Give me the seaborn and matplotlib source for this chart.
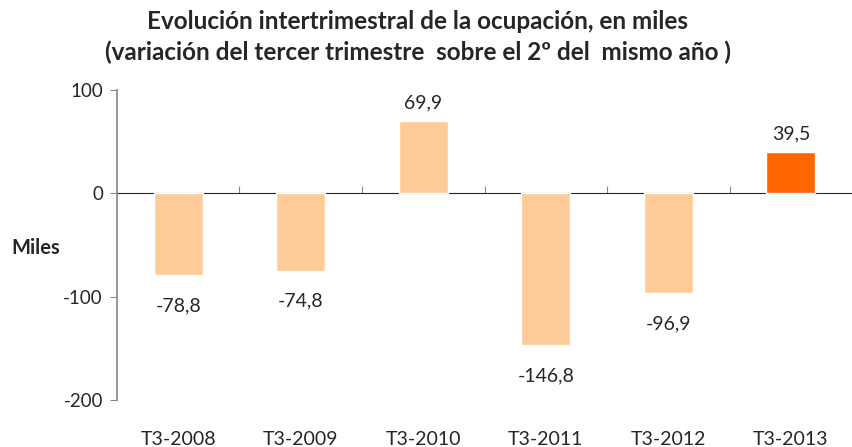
import matplotlib
matplotlib.use("Agg")
import matplotlib.pyplot as plt
import seaborn as sns
import pandas as pd

categories = ["T3-2008", "T3-2009", "T3-2010", "T3-2011", "T3-2012", "T3-2013"]
values = [-78.8, -74.8, 69.9, -146.8, -96.9, 39.5]
bar_colors = ["#FFCC99", "#FFCC99", "#FFCC99", "#FFCC99", "#FFCC99", "#FF6600"]
yticks = [100, 0, -100, -200]

sns.set_style("white")
plt.rcParams["font.family"] = ["Lato", "DejaVu Sans"]

df = pd.DataFrame({"cat": categories, "val": values})

fig = plt.figure(figsize=(8.53, 4.47), dpi=100)
ax = fig.add_axes([0.137, 0.105, 0.862, 0.694])

sns.barplot(data=df, x="cat", y="val", hue="cat", palette=bar_colors,
            width=0.4, saturation=1, legend=False, ax=ax)

ax.set_ylim(-200, 100)
ax.set_xlim(-0.5, len(categories) - 0.5)
ax.set_yticks(yticks)
ax.set_yticklabels([str(t) for t in yticks], fontsize=13.5)

for s in ["top", "right", "bottom"]:
    ax.spines[s].set_visible(False)
ax.spines["left"].set_color("#868686")
ax.spines["left"].set_linewidth(1.2)
ax.tick_params(axis="y", which="both", left=True, length=5, color="#868686", pad=5)
ax.tick_params(axis="x", length=0, pad=22, labelsize=14)
ax.set_xlabel("")
ax.set_ylabel("")
fig.text(60 / 853, 1 - 248 / 447, "Miles", ha="right", va="center",
         fontsize=14.5, fontweight="bold")

# zero line axis with boundary ticks
zero_frac = (0 - (-200)) / (100 - (-200))
sec = ax.secondary_xaxis(zero_frac)
sec.spines["bottom"].set_color("#868686")
sec.spines["bottom"].set_linewidth(1.5)
sec.set_xticks([i + 0.5 for i in range(len(categories) - 1)])
sec.set_xticklabels([])
sec.tick_params(axis="x", length=5, color="#868686")

for cont in ax.containers:
    labs = [f"{v:.1f}".replace(".", ",") for v in cont.datavalues]
    pad = 16 if cont.datavalues[0] < 0 else 7
    ax.bar_label(cont, labels=labs, padding=pad, fontsize=14)

fig.text(0.49, 0.952, "Evolución intertrimestral de la ocupación, en miles",
         ha="center", va="center", fontsize=17.5, fontweight="bold")
fig.text(0.49, 0.882, "(variación del tercer trimestre  sobre el 2º del  mismo año )",
         ha="center", va="center", fontsize=17.5, fontweight="bold")

fig.savefig("out.png", dpi=100)
